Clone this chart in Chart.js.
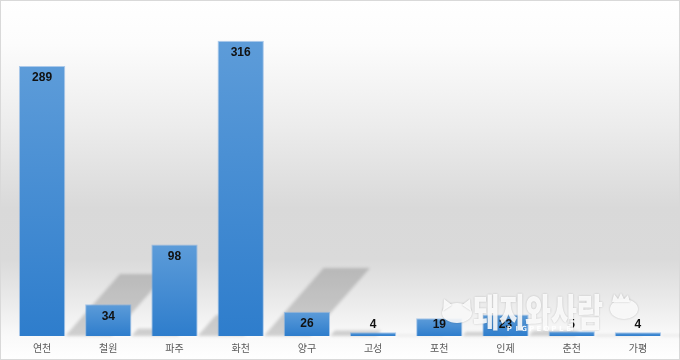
<!DOCTYPE html>
<html>
<head>
<meta charset="utf-8">
<script src="https://cdn.jsdelivr.net/npm/chart.js@4/dist/chart.umd.min.js"></script>
<style>
  html, body { margin: 0; padding: 0; background: #ffffff; }
  canvas { display: block; }
</style>
</head>
<body>
<canvas id="c" width="680" height="360"></canvas>
<script>
const categories = ['연천', '철원', '파주', '화천', '양구', '고성', '포천', '인제', '춘천', '가평'];
const values = [289, 34, 98, 316, 26, 4, 19, 23, 5, 4];
const watermarkText = '돼지와사람';
const watermarkSub = 'PIGPEOPLE';

const bgPlugin = {
  id: 'bg',
  beforeDraw(chart) {
    const ctx = chart.ctx, W = chart.width, H = chart.height;
    ctx.save();
    const g = ctx.createLinearGradient(0, 0, 0, H);
    g.addColorStop(0, '#ffffff');
    g.addColorStop(0.12, '#fcfcfc');
    g.addColorStop(0.35, '#ececec');
    g.addColorStop(0.58, '#d9d9d9');
    g.addColorStop(0.72, '#dadada');
    g.addColorStop(0.84, '#ebebeb');
    g.addColorStop(0.93, '#f9f9f9');
    g.addColorStop(1, '#ffffff');
    ctx.fillStyle = g;
    ctx.fillRect(0, 0, W, H);
    ctx.strokeStyle = '#d9d9d9';
    ctx.lineWidth = 1;
    ctx.strokeRect(0.5, 0.5, W - 1, H - 1);
    ctx.restore();
  }
};

const shadowPlugin = {
  id: 'barShadow',
  beforeDatasetsDraw(chart) {
    const ctx = chart.ctx;
    const meta = chart.getDatasetMeta(0);
    ctx.save();
    ctx.filter = 'blur(1.5px)';
    ctx.fillStyle = 'rgba(0,0,0,0.17)';
    meta.data.forEach(bar => {
      const w = bar.width;
      const h = bar.base - bar.y;
      const sh = h * 0.23;
      const dx = sh * 0.88;
      const r = bar.x + w / 2;
      ctx.beginPath();
      ctx.moveTo(r, bar.base);
      ctx.lineTo(r + w, bar.base);
      ctx.lineTo(r + w + dx, bar.base - sh);
      ctx.lineTo(r + dx, bar.base - sh);
      ctx.closePath();
      ctx.fill();
    });
    ctx.restore();
  }
};

const labelPlugin = {
  id: 'valueLabels',
  afterDatasetsDraw(chart) {
    const ctx = chart.ctx;
    const meta = chart.getDatasetMeta(0);
    ctx.save();
    ctx.font = 'bold 12px "Liberation Sans", Arial, sans-serif';
    ctx.fillStyle = '#111111';
    ctx.textAlign = 'center';
    ctx.textBaseline = 'middle';
    meta.data.forEach((bar, i) => {
      const y = Math.min(bar.y + 12, bar.base - 11);
      ctx.fillText(String(values[i]), bar.x, y);
    });
    ctx.restore();
  }
};

const watermarkPlugin = {
  id: 'watermark',
  afterDraw(chart) {
    const ctx = chart.ctx;
    ctx.save();
    ctx.globalAlpha = 0.88;
    ctx.shadowColor = 'rgba(0,0,0,0.25)';
    ctx.shadowBlur = 2;
    ctx.fillStyle = '#ffffff';
    // cat head
    ctx.beginPath();
    ctx.ellipse(457, 313, 15, 10, 0, 0, Math.PI * 2);
    ctx.fill();
    ctx.beginPath();
    ctx.moveTo(443, 311); ctx.lineTo(444, 299); ctx.lineTo(452, 305); ctx.closePath();
    ctx.moveTo(471, 311); ctx.lineTo(470, 299); ctx.lineTo(462, 305); ctx.closePath();
    ctx.fill();
    // pig head
    ctx.beginPath();
    ctx.ellipse(624, 309, 14, 10, 0, 0, Math.PI * 2);
    ctx.fill();
    ctx.beginPath();
    ctx.moveTo(612, 302); ctx.lineTo(614, 294); ctx.lineTo(618, 299); ctx.lineTo(621, 293);
    ctx.lineTo(624, 299); ctx.lineTo(628, 295); ctx.lineTo(630, 302); ctx.closePath();
    ctx.fill();
    // text
    ctx.font = '900 38px "Noto Sans CJK KR", sans-serif';
    ctx.textBaseline = 'alphabetic';
    ctx.textAlign = 'left';
    const tw = ctx.measureText(watermarkText).width;
    ctx.translate(473, 326);
    ctx.scale(130 / tw, 1.0);
    ctx.fillText(watermarkText, 0, 0);
    ctx.restore();
    ctx.save();
    ctx.globalAlpha = 0.9;
    ctx.fillStyle = '#ffffff';
    ctx.font = 'bold 7px "DejaVu Sans", sans-serif';
    ctx.textAlign = 'center';
    ctx.textBaseline = 'middle';
    const sp = 7.4;
    const start = 539 - (watermarkSub.length - 1) * sp / 2;
    for (let i = 0; i < watermarkSub.length; i++) {
      ctx.fillText(watermarkSub[i], start + i * sp, 329);
    }
    ctx.restore();
  }
};

new Chart(document.getElementById('c'), {
  type: 'bar',
  data: {
    labels: categories,
    datasets: [{
      data: values,
      backgroundColor: (c) => {
        const chart = c.chart;
        const y = chart.scales && chart.scales.y;
        if (!chart.chartArea || !y) return '#3f8bd2';
        const top = y.getPixelForValue(c.raw);
        const base = y.getPixelForValue(0);
        const g = chart.ctx.createLinearGradient(0, top, 0, base + 0.01);
        g.addColorStop(0, '#5d9cd9');
        g.addColorStop(1, '#2e7dcc');
        return g;
      },
      borderColor: 'rgba(120,170,225,0.6)',
      borderWidth: 1,
      barPercentage: 0.7,
      categoryPercentage: 1.0
    }]
  },
  options: {
    responsive: false,
    animation: false,
    layout: { padding: { left: 9, right: 9, top: 9, bottom: 0 } },
    plugins: { legend: { display: false }, tooltip: { enabled: false } },
    scales: {
      x: {
        grid: { display: false, drawTicks: false },
        border: { display: false },
        ticks: { color: '#595959', font: { family: '"Noto Sans CJK KR", sans-serif', size: 10 }, padding: 6 }
      },
      y: {
        display: false,
        min: 0,
        max: 350
      }
    }
  },
  plugins: [bgPlugin, shadowPlugin, labelPlugin, watermarkPlugin]
});
</script>
</body>
</html>
